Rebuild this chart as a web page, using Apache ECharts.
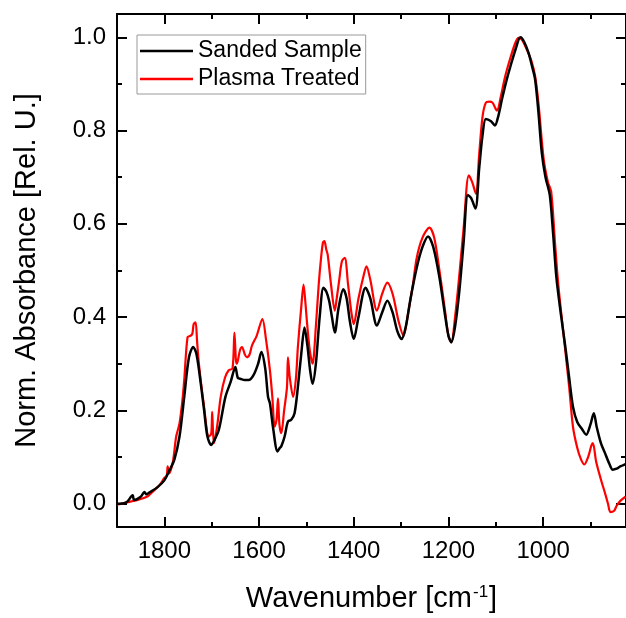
<!DOCTYPE html>
<html>
<head>
<meta charset="utf-8">
<script src="https://cdn.jsdelivr.net/npm/echarts@6/dist/echarts.min.js"></script>
<style>
  html, body { margin: 0; padding: 0; background: #fff; }
  #chart { width: 626px; height: 618px; }
</style>
</head>
<body>
<div id="chart"></div>
<script>
// FTIR spectra, normalized absorbance vs. wavenumber (cm^-1)
const sandedWn = [1900,1880,1867,1864,1850,1842,1838,1830,1815,1800,1790,1779,1768,1758,1748,1739,1732,1723,1716,1709,1701,1695,1685,1671,1660,1650,1645,1640,1630,1622,1612,1602,1595,1587,1581,1577,1570,1561,1556,1553,1546,1539,1532,1525,1518,1510,1504,1498,1492,1487,1480,1472,1464,1458,1452,1446,1440,1432,1422,1415,1408,1400,1390,1375,1365,1351,1340,1329,1318,1308,1299,1290,1280,1267,1255,1243,1232,1219,1208,1200,1194,1186,1177,1168,1159,1152,1143,1135,1128,1121,1110,1102,1095,1087,1078,1069,1058,1048,1040,1031,1024,1017,1010,1003,995,986,979,972,963,954,945,937,928,918,909,900,893,887,878,870,860,853,845,837,826];
const sandedAbs = [0.000,0.003,0.018,0.008,0.015,0.025,0.020,0.025,0.035,0.050,0.070,0.094,0.144,0.229,0.314,0.336,0.320,0.257,0.200,0.144,0.126,0.135,0.158,0.229,0.261,0.293,0.270,0.268,0.265,0.265,0.275,0.300,0.325,0.290,0.229,0.215,0.160,0.112,0.120,0.123,0.144,0.176,0.180,0.194,0.250,0.330,0.378,0.340,0.285,0.257,0.300,0.400,0.463,0.455,0.435,0.400,0.367,0.420,0.460,0.440,0.390,0.353,0.400,0.463,0.440,0.382,0.410,0.435,0.410,0.370,0.353,0.380,0.440,0.506,0.550,0.573,0.550,0.485,0.410,0.360,0.346,0.380,0.456,0.560,0.662,0.655,0.633,0.720,0.790,0.825,0.820,0.811,0.830,0.867,0.905,0.938,0.975,1.000,0.990,0.967,0.940,0.910,0.840,0.754,0.700,0.662,0.580,0.485,0.410,0.343,0.270,0.208,0.175,0.160,0.148,0.170,0.194,0.165,0.130,0.110,0.085,0.073,0.075,0.080,0.085];

const plasmaWn = [1900,1883,1870,1860,1850,1835,1820,1810,1800,1795,1793,1790,1782,1775,1768,1762,1758,1751,1745,1741,1738,1734,1731,1727,1717,1706,1701,1699,1697,1695,1688,1681,1672,1664,1656,1652,1649,1647,1640,1636,1630,1626,1620,1615,1605,1593,1585,1577,1572,1567,1563,1560,1557,1553,1547,1541,1539,1535,1528,1522,1518,1511,1506,1502,1499,1493,1487,1480,1474,1469,1465,1462,1458,1455,1448,1440,1436,1431,1425,1419,1412,1405,1400,1390,1379,1373,1365,1351,1340,1329,1318,1305,1295,1285,1275,1267,1255,1240,1230,1219,1208,1200,1194,1186,1177,1168,1157,1150,1142,1135,1128,1121,1114,1107,1100,1097,1090,1080,1068,1058,1052,1045,1035,1025,1017,1010,999,990,983,975,968,954,945,937,928,920,913,905,898,895,888,878,870,863,858,850,845,837,826];
const plasmaAbs = [-0.002,0.002,0.005,0.007,0.010,0.016,0.030,0.040,0.055,0.060,0.080,0.065,0.090,0.144,0.172,0.220,0.265,0.357,0.360,0.364,0.385,0.389,0.350,0.300,0.215,0.144,0.150,0.197,0.150,0.130,0.170,0.229,0.270,0.286,0.290,0.367,0.310,0.300,0.330,0.336,0.320,0.314,0.320,0.339,0.360,0.396,0.350,0.286,0.230,0.165,0.180,0.226,0.170,0.151,0.200,0.250,0.314,0.270,0.229,0.270,0.336,0.420,0.470,0.430,0.392,0.330,0.300,0.380,0.470,0.527,0.560,0.563,0.545,0.534,0.470,0.414,0.440,0.477,0.520,0.527,0.470,0.410,0.385,0.440,0.490,0.509,0.480,0.414,0.450,0.474,0.450,0.390,0.360,0.410,0.470,0.527,0.570,0.592,0.570,0.500,0.420,0.360,0.346,0.400,0.490,0.590,0.704,0.690,0.665,0.750,0.830,0.860,0.862,0.860,0.846,0.843,0.870,0.917,0.960,0.990,0.999,0.995,0.975,0.950,0.917,0.860,0.740,0.690,0.669,0.560,0.470,0.336,0.250,0.165,0.120,0.095,0.084,0.100,0.125,0.130,0.090,0.052,0.025,0.000,-0.018,-0.015,-0.005,0.006,0.015];

const xMajorTicks = [1800, 1600, 1400, 1200, 1000];
const xMinorTicks = [1700, 1500, 1300, 1100, 900];
const yMajorTicks = [0.0, 0.2, 0.4, 0.6, 0.8, 1.0];
const yMinorTicks = [0.1, 0.3, 0.5, 0.7, 0.9];

const FONT = '"Liberation Sans", Arial, sans-serif';
const X_MIN = 825, X_MAX = 1900, Y_MIN = -0.05, Y_MAX = 1.05;

function pairs(xs, ys) { return xs.map((x, i) => [x, ys[i]]); }

function xAxisDef(pos, ticks, len, showLine, labels) {
  return {
    type: 'value', position: pos, inverse: true, min: X_MIN, max: X_MAX,
    axisLine: { show: showLine, onZero: false, lineStyle: { color: '#000', width: 2 } },
    axisTick: { show: true, inside: true, length: len, customValues: ticks, lineStyle: { color: '#000', width: 2 } },
    axisLabel: labels ? { show: true, customValues: ticks, fontSize: 24, color: '#000', fontFamily: FONT, margin: 12,
      formatter: v => String(Math.round(v)) } : { show: false },
    splitLine: { show: false }
  };
}
function yAxisDef(pos, ticks, len, showLine, labels) {
  return {
    type: 'value', position: pos, min: Y_MIN, max: Y_MAX,
    axisLine: { show: showLine, onZero: false, lineStyle: { color: '#000', width: 2 } },
    axisTick: { show: true, inside: true, length: len, customValues: ticks, lineStyle: { color: '#000', width: 2 } },
    axisLabel: labels ? { show: true, customValues: ticks, fontSize: 24, color: '#000', fontFamily: FONT, margin: 11,
      formatter: v => v.toFixed(1) } : { show: false },
    splitLine: { show: false }
  };
}

const bottomX = xAxisDef('bottom', xMajorTicks, 10, true, true);
bottomX.name = 'Wavenumber [cm{sup|-1}]';
bottomX.nameLocation = 'middle';
bottomX.nameGap = 57;
bottomX.nameTextStyle = {
  fontSize: 29, color: '#000', fontFamily: FONT,
  rich: { sup: { fontSize: 17, color: '#000', fontFamily: FONT, verticalAlign: 'top', padding: [0, 1, 0, 1] } }
};

const leftY = yAxisDef('left', yMajorTicks, 10, true, true);
leftY.name = 'Norm. Absorbance [Rel. U.]';
leftY.nameLocation = 'middle';
leftY.nameGap = 76;
leftY.nameTextStyle = { fontSize: 29, color: '#000', fontFamily: FONT };

const chart = echarts.init(document.getElementById('chart'), null, { renderer: 'canvas' });
chart.setOption({
  animation: false,
  backgroundColor: '#fff',
  grid: { left: 117, top: 14, width: 516, height: 516, containLabel: false },
  legend: {
    data: [
      { name: 'Sanded Sample', icon: 'rect', itemStyle: { color: '#000' } },
      { name: 'Plasma Treated', icon: 'rect', itemStyle: { color: '#f00' } }
    ],
    orient: 'vertical', left: 137, top: 35,
    padding: [4, 4, 3, 3],
    itemWidth: 53, itemHeight: 2.5, itemGap: 4,
    borderColor: '#999', borderWidth: 1, borderRadius: 0,
    textStyle: { fontSize: 23, color: '#000', fontFamily: FONT, lineHeight: 24 }
  },
  xAxis: [
    bottomX,
    xAxisDef('bottom', xMinorTicks, 5, false, false),
    xAxisDef('top', xMajorTicks, 10, true, false),
    xAxisDef('top', xMinorTicks, 5, false, false)
  ],
  yAxis: [
    leftY,
    yAxisDef('left', yMinorTicks, 5, false, false),
    yAxisDef('right', yMajorTicks, 10, true, false),
    yAxisDef('right', yMinorTicks, 5, false, false)
  ],
  series: [
    {
      name: 'Plasma Treated', type: 'line', xAxisIndex: 0, yAxisIndex: 0,
      data: pairs(plasmaWn, plasmaAbs), symbol: 'none', smooth: 0.3,
      lineStyle: { color: '#f00', width: 2.2 }, itemStyle: { color: '#f00' }, z: 2
    },
    {
      name: 'Sanded Sample', type: 'line', xAxisIndex: 0, yAxisIndex: 0,
      data: pairs(sandedWn, sandedAbs), symbol: 'none', smooth: 0.3,
      lineStyle: { color: '#000', width: 2.5 }, itemStyle: { color: '#000' }, z: 3
    }
  ]
});
</script>
</body>
</html>
